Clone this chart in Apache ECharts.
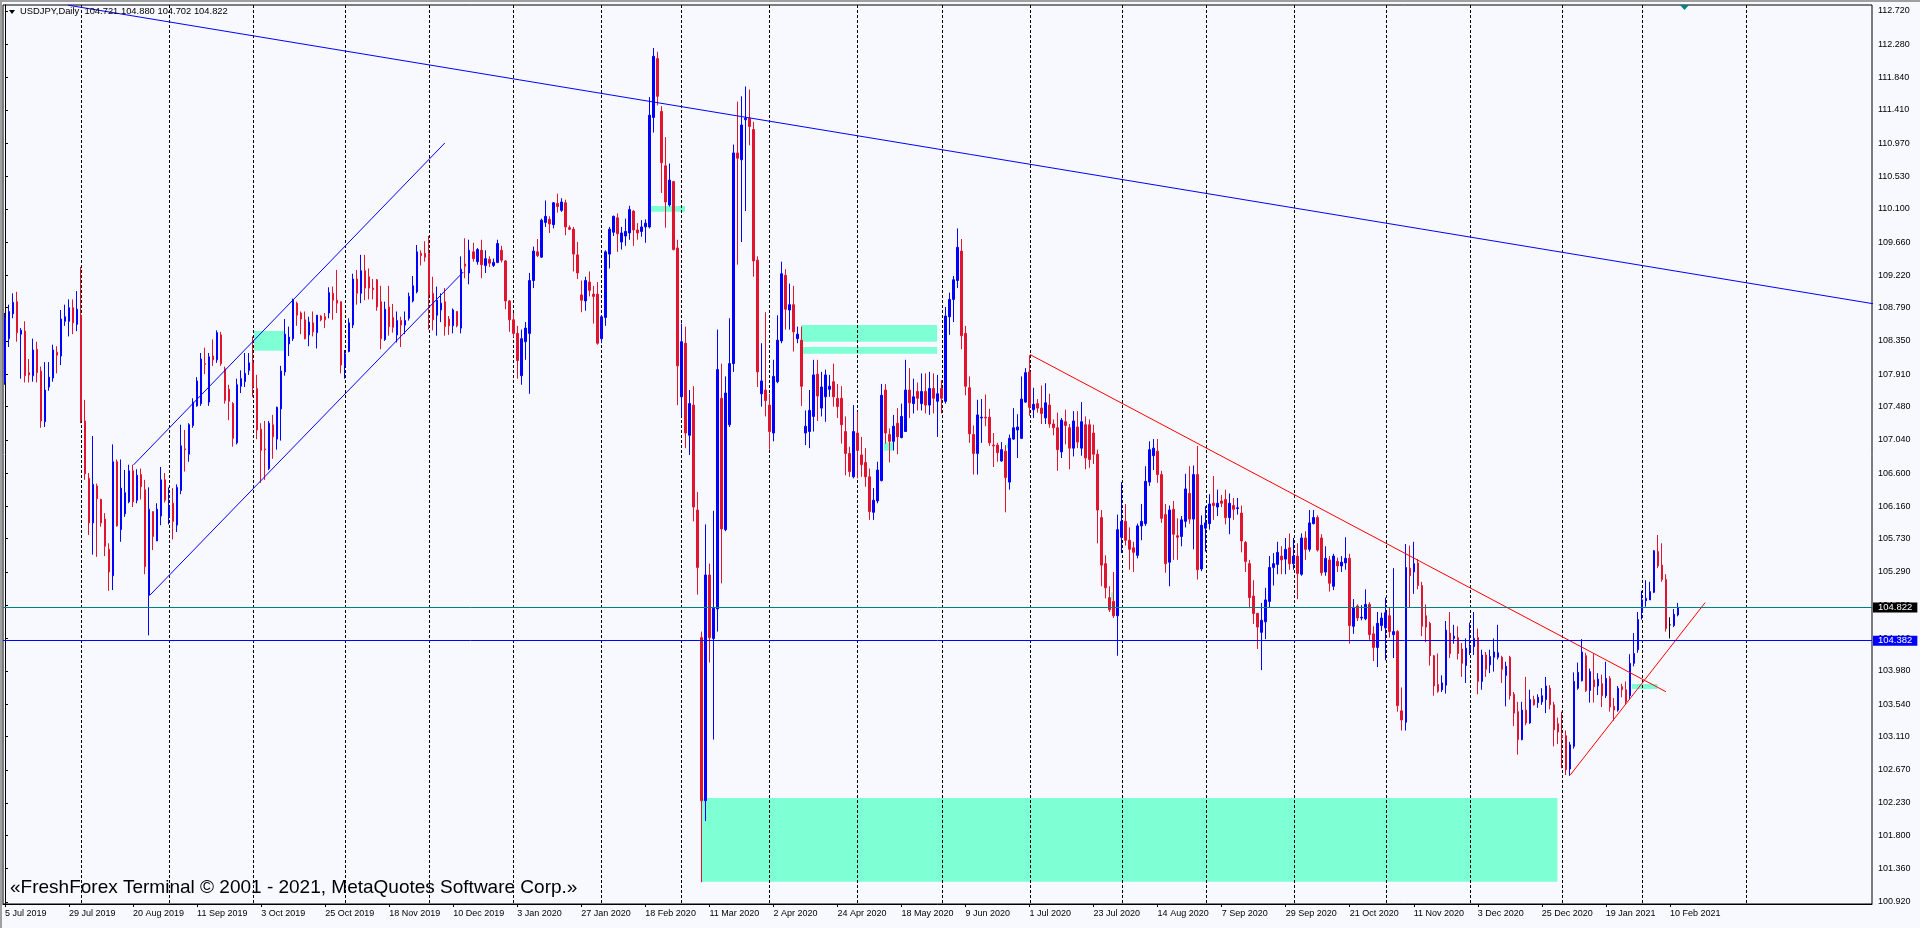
<!DOCTYPE html>
<html>
<head>
<meta charset="utf-8">
<title>USDJPY, Daily</title>
<script src="https://cdn.jsdelivr.net/npm/echarts@6/dist/echarts.min.js"></script>
<style>
html, body { margin: 0; padding: 0; background: #F8F8FF; }
#chart { width: 1920px; height: 928px; }
</style>
</head>
<body>
<div id="chart"></div>
<script>
// daily bars, 5 Jul 2019 .. 12 Feb 2021
const openP = [
  107.81,108.38,108.71,108.87,108.44,108.48,107.93,107.89,108.24,107.95,
  107.28,107.74,107.86,108.20,108.15,108.61,108.61,108.79,108.57,108.69,
  107.29,106.53,105.94,106.43,106.25,105.99,105.59,105.24,106.75,105.85,
  106.06,106.22,106.63,106.24,106.58,106.38,104.98,106.09,105.70,106.03,
  106.51,106.02,106.20,105.91,106.37,106.92,106.85,107.23,107.49,107.52,
  108.05,107.54,108.15,108.10,108.43,107.98,107.71,107.52,107.00,107.75,
  107.81,107.96,108.06,107.72,107.18,106.92,106.66,107.24,107.05,107.45,
  107.94,108.31,108.38,108.85,108.72,108.63,108.43,108.59,108.46,108.68,
  108.67,108.72,108.98,108.89,108.87,108.02,108.21,108.56,109.17,108.98,
  109.28,109.20,109.05,109.16,108.87,108.37,108.80,108.66,108.43,108.62,
  108.56,108.65,108.88,109.00,109.51,109.51,109.51,108.98,108.69,108.76,
  108.87,108.64,108.55,108.74,108.52,109.37,109.25,109.53,109.40,109.55,
  109.35,109.43,109.35,109.39,109.55,109.41,108.88,108.63,108.45,107.89,
  108.34,108.45,109.15,109.53,109.46,109.92,109.96,109.89,110.17,110.08,
  110.18,109.85,109.83,109.49,108.96,108.88,109.13,108.97,108.97,108.38,
  108.66,109.50,109.79,109.98,109.66,109.74,109.78,110.07,109.82,109.80,
  109.86,109.86,111.31,112.09,111.39,110.67,110.15,110.46,109.58,107.61,
  108.32,107.10,107.50,106.11,104.42,102.26,105.25,104.41,104.80,107.59,
  105.85,107.24,108.05,110.84,110.75,111.28,111.30,111.15,109.42,107.65,
  107.70,107.50,107.13,107.81,108.35,109.22,108.76,108.83,108.38,108.36,
  107.13,107.15,107.35,107.91,107.46,107.61,107.71,107.81,107.59,107.59,
  107.15,106.86,106.55,107.13,106.84,106.74,106.55,106.08,106.23,106.50,
  107.70,107.11,107.02,107.26,107.07,107.15,107.70,107.52,107.68,107.52,
  107.68,107.50,107.72,107.55,107.72,107.55,108.67,108.90,109.15,109.54,
  108.45,107.73,107.11,106.86,107.33,107.34,107.34,106.97,106.97,106.76,
  106.89,106.48,107.05,107.17,107.06,107.54,107.94,107.44,107.52,107.46,
  107.33,107.50,107.25,107.20,106.88,107.28,107.20,106.93,107.21,106.93,
  107.24,107.24,107.13,106.85,106.01,105.40,104.95,104.90,104.71,105.75,
  105.96,105.71,105.61,105.51,105.90,105.93,106.48,106.83,106.89,106.58,
  106.05,105.42,106.12,105.77,105.76,105.96,106.33,105.99,106.58,105.33,
  105.87,105.93,106.20,106.15,106.23,106.25,106.01,106.17,106.13,106.07,
  105.68,105.40,104.97,104.74,104.49,104.63,104.90,105.35,105.39,105.50,
  105.46,105.61,105.40,105.50,105.26,105.74,105.59,105.93,106.01,105.74,
  105.29,105.45,105.10,105.43,105.37,105.41,105.47,104.57,104.84,104.68,
  104.67,104.86,104.47,104.29,104.58,104.55,104.71,104.46,104.50,103.45,
  103.30,105.34,105.29,105.41,105.11,104.71,104.61,104.18,103.80,103.73,
  103.79,104.48,104.41,104.42,104.27,104.05,104.25,104.30,104.42,103.84,
  104.19,104.06,104.16,104.16,104.16,103.92,104.16,103.67,103.44,103.07,
  103.46,103.29,103.60,103.56,103.57,103.60,103.75,103.53,103.28,103.12,
  103.12,102.68,102.98,103.75,103.85,104.18,103.72,103.86,103.78,103.81,
  103.65,103.88,103.51,103.46,103.77,103.73,103.65,104.08,104.26,104.76,
  104.91,104.92,105.02,105.56,105.38,105.19,104.59,104.58,104.721
];
const closeP = [
  108.65,108.74,108.86,108.46,108.49,107.89,107.90,108.23,107.93,107.29,
  107.70,107.87,108.23,108.16,108.64,108.67,108.79,108.59,108.77,107.30,
  106.59,105.94,106.45,106.26,105.94,105.63,105.29,106.75,105.90,106.40,
  106.34,106.63,106.22,106.57,106.42,105.36,106.12,105.76,106.12,106.51,
  106.24,106.16,105.96,106.41,106.96,106.91,107.24,107.54,107.82,108.11,
  108.04,108.14,108.10,108.46,108.05,107.56,107.55,107.06,107.77,107.85,
  107.92,108.06,107.74,107.17,106.90,106.91,107.26,107.08,107.47,107.95,
  108.44,108.40,108.89,108.69,108.64,108.38,108.60,108.47,108.69,108.63,
  108.63,108.99,108.89,108.85,108.03,108.18,108.59,109.17,108.98,109.28,
  109.05,109.05,109.03,108.80,108.38,108.77,108.54,108.53,108.62,108.56,
  108.62,108.94,109.08,109.53,109.48,109.46,108.96,108.63,108.89,108.85,
  108.54,108.55,108.76,108.55,109.30,109.34,109.55,109.44,109.56,109.36,
  109.44,109.38,109.39,109.64,109.42,108.88,108.63,108.45,108.09,108.38,
  108.52,109.15,109.54,109.48,109.95,110.00,109.90,110.18,110.13,110.19,
  109.86,109.83,109.50,109.25,108.89,109.15,109.02,108.94,108.32,108.67,
  109.53,109.83,110.00,109.77,109.78,109.80,110.09,109.82,109.78,109.86,
  109.91,111.34,112.12,111.59,110.71,110.19,110.48,109.56,108.02,108.34,
  107.13,107.52,106.15,105.35,102.26,105.25,104.42,104.81,107.97,105.86,
  107.66,108.05,110.84,110.77,111.21,111.30,111.19,109.41,107.94,107.82,
  107.56,107.15,107.88,108.36,109.24,108.77,108.83,108.47,108.44,107.75,
  107.22,107.43,107.90,107.62,107.74,107.90,107.75,107.61,107.48,107.24,
  106.86,106.62,107.15,106.90,106.71,106.55,106.09,106.24,106.64,107.63,
  107.13,107.02,107.22,107.08,107.35,107.70,107.53,107.61,107.59,107.68,
  107.50,107.72,107.59,107.65,107.59,108.68,108.90,109.16,109.59,108.42,
  107.75,107.12,106.86,107.37,107.34,107.33,107.00,106.96,106.87,106.91,
  106.54,107.06,107.20,107.21,107.58,107.93,107.47,107.51,107.46,107.39,
  107.53,107.25,107.20,106.91,107.30,107.23,106.93,107.29,107.01,107.28,
  106.80,106.78,106.85,106.11,105.38,105.08,104.79,104.71,105.85,105.96,
  105.71,105.59,105.55,105.90,105.96,106.49,106.91,106.93,106.58,106.00,
  105.40,106.11,105.79,105.75,105.98,106.39,105.99,106.58,105.32,105.91,
  105.94,106.19,106.17,106.20,106.20,106.01,106.20,106.12,106.14,105.70,
  105.43,104.95,104.74,104.56,104.65,104.92,105.35,105.40,105.55,105.45,
  105.59,105.40,105.50,105.27,105.74,105.59,105.94,106.01,105.58,105.28,
  105.47,105.14,105.50,105.37,105.42,105.47,104.58,104.82,104.68,104.69,
  104.86,104.46,104.29,104.61,104.68,104.75,104.50,104.50,103.52,103.33,
  105.35,105.24,105.40,105.11,104.57,104.56,104.18,103.78,103.71,103.82,
  104.52,104.21,104.44,104.21,104.08,104.28,104.30,104.41,103.84,104.19,
  104.00,104.17,104.23,104.22,104.00,104.04,103.65,103.42,103.07,103.46,
  103.29,103.60,103.53,103.63,103.65,103.78,103.53,103.20,103.17,103.10,
  102.67,103.00,103.84,103.96,104.23,103.72,103.97,103.77,103.87,103.65,
  103.88,103.50,103.46,103.75,103.73,103.57,104.08,104.21,104.66,104.92,
  104.94,105.03,105.57,105.37,105.19,104.54,104.59,104.73,104.822
];
const lowP = [
  107.77,108.27,108.65,108.34,107.85,107.80,107.80,107.81,107.80,107.20,
  107.21,107.69,107.81,107.92,108.03,108.55,108.41,108.44,108.48,107.26,
  106.51,105.78,105.52,105.49,105.89,105.50,105.04,105.05,105.89,105.69,
  106.02,106.20,106.15,106.20,106.25,105.26,104.45,105.58,105.70,105.91,
  106.21,105.92,105.72,105.82,106.32,106.62,106.75,107.20,107.48,107.49,
  107.91,107.49,108.02,108.06,108.02,107.52,107.30,106.95,106.98,107.66,
  107.74,107.90,107.61,107.05,106.47,106.51,106.64,106.79,106.91,107.03,
  107.89,108.15,108.35,108.55,108.44,108.37,108.28,108.41,108.25,108.61,
  108.52,108.65,108.63,108.72,107.92,107.85,108.20,108.52,108.83,108.85,
  108.89,108.90,108.90,108.75,108.24,108.35,108.42,108.46,108.33,108.27,
  108.44,108.62,108.86,108.98,109.35,109.40,108.50,108.49,108.42,108.60,
  108.42,108.43,108.45,108.53,108.45,109.18,109.10,109.40,109.36,109.18,
  109.25,109.33,109.33,109.38,109.39,108.77,108.47,108.40,107.85,107.77,
  108.10,107.65,109.05,109.46,109.45,109.86,109.78,109.84,110.05,110.06,
  109.75,109.82,109.27,109.17,108.73,108.75,108.94,108.58,108.30,108.32,
  108.55,109.31,109.74,109.53,109.56,109.61,109.69,109.61,109.69,109.73,
  109.65,109.84,111.11,111.47,110.31,109.85,110.13,109.55,107.50,107.35,
  106.93,106.84,105.96,104.99,101.18,101.99,104.09,103.07,104.50,105.14,
  105.83,107.21,107.94,109.36,109.66,110.07,110.94,109.20,107.74,107.48,
  107.35,106.91,107.02,107.79,108.32,108.50,108.50,108.21,108.32,107.49,
  106.97,106.93,107.15,107.29,107.35,107.28,107.61,107.48,107.33,106.99,
  106.57,106.55,106.53,106.53,106.55,106.42,105.98,105.98,106.20,106.49,
  106.99,106.74,106.90,106.85,107.06,107.15,107.33,107.39,107.43,107.43,
  107.39,107.37,107.39,107.08,107.39,107.52,108.43,108.60,109.05,108.24,
  107.63,107.00,106.58,106.58,107.00,107.22,106.96,106.68,106.75,106.75,
  106.08,106.38,107.04,106.80,107.05,107.53,107.36,107.33,107.40,107.25,
  107.25,107.20,107.10,106.63,106.80,106.98,106.65,106.82,106.93,106.83,
  106.65,106.67,106.72,105.67,105.10,104.94,104.76,104.68,104.18,105.54,
  105.64,105.32,105.29,105.47,105.71,105.90,106.43,106.64,106.47,105.94,
  105.28,105.10,105.45,105.45,105.63,105.88,105.93,105.59,105.19,105.30,
  105.56,105.85,105.98,106.03,106.15,105.92,105.79,105.98,106.05,105.55,
  105.29,104.81,104.60,104.27,103.99,104.40,104.82,105.11,105.26,105.26,
  105.26,105.32,105.32,104.93,105.24,105.45,105.56,105.92,105.56,105.24,
  105.24,105.03,105.05,105.29,105.29,105.32,104.34,104.47,104.64,104.65,
  104.65,104.39,104.11,104.03,104.51,104.12,104.42,104.15,103.44,103.19,
  103.19,104.82,105.00,105.06,104.44,104.36,104.05,103.65,103.69,103.70,
  103.68,104.15,104.34,104.13,103.90,103.82,104.19,104.19,103.67,103.73,
  103.90,103.95,103.97,104.13,103.82,103.51,103.60,103.25,102.87,103.06,
  103.26,103.28,103.52,103.49,103.53,103.42,103.47,102.98,103.01,102.69,
  102.60,102.59,102.95,103.73,103.84,103.70,103.56,103.56,103.66,103.50,
  103.62,103.44,103.32,103.44,103.63,103.53,103.60,104.04,104.22,104.66,
  104.83,104.92,105.01,105.34,105.16,104.50,104.41,104.56,104.702
];
const highP = [
  108.72,108.83,108.98,109.00,108.52,108.61,108.11,108.38,108.34,108.01,
  108.07,108.07,108.30,108.28,108.76,108.83,108.90,108.90,109.01,109.33,
  107.57,106.60,107.09,106.46,106.26,106.07,105.67,106.98,106.78,106.78,
  106.64,106.71,106.71,106.65,106.66,106.51,106.41,106.09,106.20,106.68,
  106.60,106.41,106.40,106.45,107.24,107.17,107.26,107.59,107.87,108.19,
  108.26,108.19,108.37,108.49,108.47,108.01,107.77,107.54,107.85,107.96,
  108.19,108.19,108.41,107.90,107.26,107.29,107.29,107.37,107.48,108.02,
  108.64,108.54,108.91,108.87,108.74,108.74,108.67,108.74,108.69,108.69,
  108.72,109.06,109.07,109.29,108.87,108.23,108.65,109.24,109.29,109.49,
  109.49,109.31,109.17,109.17,109.08,108.87,109.08,108.84,108.74,108.67,
  108.74,108.99,109.21,109.62,109.55,109.67,109.74,109.20,109.07,108.98,
  109.05,108.68,108.78,108.74,109.47,109.71,109.69,109.65,109.58,109.69,
  109.55,109.47,109.44,109.69,109.61,109.42,108.89,108.72,108.55,108.50,
  108.60,109.25,109.60,109.70,109.97,110.21,110.00,110.19,110.30,110.24,
  110.22,109.88,109.86,109.66,109.15,109.20,109.27,109.08,109.13,108.69,
  109.55,109.86,110.01,110.04,109.86,109.97,110.14,110.08,109.91,109.95,
  109.96,111.58,112.23,112.18,111.46,111.05,110.70,110.47,109.69,108.58,
  108.54,107.70,107.75,106.35,104.50,105.92,105.40,106.10,108.50,108.05,
  107.88,108.65,110.95,111.52,111.59,111.72,111.68,111.25,109.47,108.32,
  108.73,107.65,108.10,108.69,109.40,109.30,109.11,109.08,108.54,108.54,
  107.43,107.70,108.10,108.10,107.94,107.97,107.90,108.05,107.78,107.75,
  107.35,106.95,107.50,107.41,107.08,106.93,106.66,106.40,106.75,107.78,
  107.78,107.19,107.37,107.46,107.52,108.10,107.99,107.85,107.80,107.92,
  107.92,107.94,107.92,107.90,107.83,108.80,108.99,109.21,109.84,109.70,
  108.55,107.88,107.23,107.57,107.58,107.64,107.45,107.13,107.00,107.01,
  106.97,107.11,107.46,107.38,107.88,107.99,108.16,107.73,107.58,107.76,
  107.79,107.65,107.31,107.40,107.33,107.44,107.25,107.42,107.42,107.54,
  107.35,107.31,107.24,106.91,106.11,105.51,105.10,105.29,106.05,106.48,
  106.19,105.88,105.69,105.93,106.19,106.69,107.02,107.05,107.05,106.63,
  106.19,106.17,106.23,106.00,106.03,106.59,106.69,106.70,106.96,106.04,
  106.16,106.32,106.56,106.38,106.31,106.38,106.33,106.27,106.27,106.17,
  105.70,105.45,105.18,104.75,104.88,105.08,105.50,105.54,105.69,105.63,
  105.74,105.80,105.74,105.67,105.80,105.83,106.11,106.11,106.04,105.79,
  105.63,105.50,105.53,105.48,105.50,105.75,105.53,104.93,104.86,104.85,
  105.06,104.89,104.57,104.76,104.75,104.95,104.82,105.34,104.52,103.76,
  105.66,105.64,105.69,105.46,105.16,104.86,104.63,104.19,104.21,103.92,
  104.64,104.76,104.59,104.57,104.35,104.41,104.62,104.76,104.54,104.26,
  104.23,104.26,104.41,104.59,104.18,104.10,104.18,103.70,103.57,103.57,
  103.90,103.73,103.65,103.67,103.75,103.90,103.79,103.57,103.36,103.44,
  103.19,103.04,103.96,104.09,104.40,104.22,104.01,104.21,103.95,103.93,
  104.10,103.91,103.62,103.78,103.81,103.84,104.20,104.48,104.76,105.04,
  105.18,105.16,105.58,105.78,105.67,105.26,104.69,104.80,104.880
];

// time axis: one slot per bar, chart shifted so empty slots follow the last bar
const slotCount = 467;
const labelEvery = 16;
const tickLabels = [
  '5 Jul 2019', '29 Jul 2019', '20 Aug 2019', '11 Sep 2019', '3 Oct 2019', '25 Oct 2019',
  '18 Nov 2019', '10 Dec 2019', '3 Jan 2020', '27 Jan 2020', '18 Feb 2020', '11 Mar 2020',
  '2 Apr 2020', '24 Apr 2020', '18 May 2020', '9 Jun 2020', '1 Jul 2020', '23 Jul 2020',
  '14 Aug 2020', '7 Sep 2020', '29 Sep 2020', '21 Oct 2020', '11 Nov 2020', '3 Dec 2020',
  '25 Dec 2020', '19 Jan 2021', '10 Feb 2021'
];
// bar slots where a new month starts (dashed grid)
const monthStarts = [19, 41, 62, 85, 106, 127, 149, 169, 191, 213, 234, 256, 279, 300, 322, 345, 366, 389, 409, 435];

// price scale
const priceMin = 100.892;
const priceMax = 112.7995;
const priceTicks = [
  100.920, 101.360, 101.800, 102.230, 102.670, 103.110, 103.540, 103.980, 104.410, 104.850,
  105.290, 105.730, 106.160, 106.600, 107.040, 107.480, 107.910, 108.350, 108.790, 109.220,
  109.660, 110.100, 110.530, 110.970, 111.410, 111.840, 112.280, 112.720
];

// horizontal levels
const levelPrices = [104.822, 104.382];

// trend lines [slot, price] pairs
const resistLine = [[15.75, 112.797], [466.75, 108.843]];
const channelLow = [[36.25, 104.985], [114.5, 109.263]];
const channelHigh = [[32.1, 106.707], [109.9, 110.972]];
const redDown = [[256.1, 108.170], [415, 103.704]];
const redUp = [[391.1, 102.601], [424.8, 104.883]];

// shaded zones [slotFrom, priceTop, slotTo, priceBottom]
const zones = [
  [62.2, 108.482, 69.75, 108.221],
  [161.4, 110.137, 169.9, 110.062],
  [174.1, 102.296, 387.9, 101.188],
  [199.0, 108.561, 232.9, 108.340],
  [199.4, 108.270, 232.9, 108.181],
  [219.6, 107.007, 222.1, 106.896],
  [250.3, 106.990, 251.0, 106.930],
  [276.4, 105.020, 277.1, 104.920],
  [406.5, 103.806, 412.9, 103.740]
];

const BULL = '#0000FF';
const BEAR = '#E0142E';
const FONT = "'Liberation Sans', Arial, sans-serif";

const slots = Array.from({ length: slotCount }, (_, i) => String(i));
const candleData = openP.map((o, i) => {
  const item = { value: [o, closeP[i], lowP[i], highP[i]] };
  if (o === closeP[i]) item.itemStyle = { color: '#000', color0: '#000', borderColor: '#000', borderColor0: '#000' };
  return item;
});
const showLabel = idx => idx % labelEvery === 0 && idx / labelEvery < tickLabels.length;

function trend(pts, color) {
  return {
    type: 'line', xAxisIndex: 1, yAxisIndex: 0, data: pts, z: 5,
    showSymbol: false, silent: true, animation: false,
    lineStyle: { color: color, width: 1 }
  };
}

const chart = echarts.init(document.getElementById('chart'));
const option = {
  animation: false,
  backgroundColor: '#F8F8FF',
  grid: {
    left: 3, top: 5, width: 1869, height: 899,
    show: true, borderColor: '#000', borderWidth: 1, backgroundColor: '#F8F8FF'
  },
  xAxis: [{
    type: 'category', data: slots, boundaryGap: true,
    axisLine: { show: true, onZero: false, lineStyle: { color: '#000', width: 1 } },
    axisTick: { show: true, alignWithLabel: true, interval: showLabel, length: 3, lineStyle: { color: '#000' } },
    axisLabel: {
      interval: showLabel, align: 'left', margin: 5,
      color: '#000', fontSize: 9, fontFamily: FONT,
      formatter: (v, idx) => tickLabels[idx / labelEvery] || ''
    },
    splitLine: { show: false }
  }, {
    type: 'value', min: -0.5, max: slotCount - 0.5, show: false
  }],
  yAxis: [{
    type: 'value', position: 'right', min: priceMin, max: priceMax,
    axisLine: { show: true, lineStyle: { color: '#000', width: 1 } },
    axisTick: { show: true, length: 3, customValues: priceTicks, lineStyle: { color: '#000' } },
    axisLabel: {
      customValues: priceTicks, margin: 6,
      color: '#000', fontSize: 9, fontFamily: FONT,
      formatter: v => v.toFixed(3)
    },
    splitLine: { show: false }
  }],
  series: [
    {
      type: 'custom', xAxisIndex: 1, yAxisIndex: 0, z: 1, silent: true, clip: true,
      data: zones, encode: { x: [0, 2], y: [1, 3] },
      renderItem: (params, api) => {
        const a = api.coord([api.value(0), api.value(1)]);
        const b = api.coord([api.value(2), api.value(3)]);
        return {
          type: 'rect',
          shape: { x: Math.min(a[0], b[0]), y: Math.min(a[1], b[1]), width: Math.abs(b[0] - a[0]), height: Math.abs(b[1] - a[1]) },
          style: { fill: '#7FFFD4' }
        };
      }
    },
    {
      type: 'custom', xAxisIndex: 1, yAxisIndex: 0, z: 2, silent: true,
      data: monthStarts.map(v => [v, priceMin]), encode: { x: 0, y: 1 },
      renderItem: (params, api) => {
        const x = Math.round(api.coord([api.value(0), priceMax])[0]) + 0.5;
        const top = api.coord([api.value(0), priceMax])[1];
        const bottom = api.coord([api.value(0), priceMin])[1];
        return {
          type: 'line',
          shape: { x1: x, y1: top, x2: x, y2: bottom },
          style: { stroke: '#000', lineWidth: 1, lineDash: [3, 2] }
        };
      }
    },
    {
      type: 'candlestick', xAxisIndex: 0, yAxisIndex: 0, z: 3,
      data: candleData, barWidth: 2,
      itemStyle: { color: BULL, color0: BEAR, borderColor: BULL, borderColor0: BEAR, borderWidth: 1 },
      silent: true,
      markLine: {
        silent: true, symbol: 'none', animation: false, z: 6,
        data: [
          {
            yAxis: levelPrices[0], lineStyle: { color: '#008080', width: 1, type: 'solid' },
            label: { show: true, position: 'end', distance: 1, formatter: levelPrices[0].toFixed(3),
              color: '#fff', backgroundColor: '#000', fontSize: 9.5, fontFamily: FONT, padding: [1, 5, 0, 5], lineHeight: 9 }
          },
          {
            yAxis: levelPrices[1], lineStyle: { color: '#0000FF', width: 1, type: 'solid' },
            label: { show: true, position: 'end', distance: 1, formatter: levelPrices[1].toFixed(3),
              color: '#fff', backgroundColor: '#0000FF', fontSize: 9.5, fontFamily: FONT, padding: [1, 5, 0, 5], lineHeight: 9 }
          }
        ]
      }
    },
    trend(resistLine, '#0000FF'),
    trend(channelLow, '#0000FF'),
    trend(channelHigh, '#0000FF'),
    trend(redDown, '#FF0000'),
    trend(redUp, '#FF0000')
  ],
  graphic: [
    { type: 'rect', left: 0, top: 0, shape: { width: 1920, height: 2 }, style: { fill: '#A0A0A0' }, silent: true },
    { type: 'rect', left: 0, top: 0, shape: { width: 2, height: 928 }, style: { fill: '#A0A0A0' }, silent: true },
    { type: 'polygon', shape: { points: [[9, 10], [15, 10], [12, 14]] }, style: { fill: '#000' }, silent: true, z: 10 },
    {
      type: 'text', left: 20, top: 7, silent: true, z: 10,
      style: { text: 'USDJPY,Daily  104.721 104.880 104.702 104.822', fill: '#000', font: '9.4px ' + FONT }
    },
    { type: 'polygon', shape: { points: [[1680, 5], [1689, 5], [1684.5, 10]] }, style: { fill: '#008080' }, silent: true, z: 10 },
    {
      type: 'text', left: 10, top: 878, silent: true, z: 10,
      style: { text: '«FreshForex Terminal © 2001 - 2021, MetaQuotes Software Corp.»', fill: '#000', font: '19px ' + FONT }
    }
  ]
};
chart.setOption(option);
</script>
</body>
</html>
